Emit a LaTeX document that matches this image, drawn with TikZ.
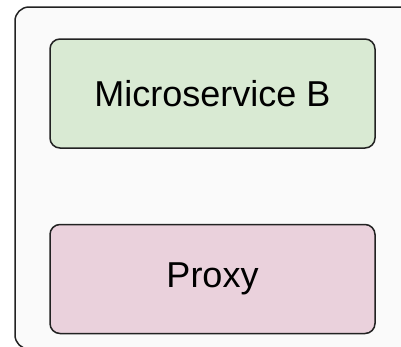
\documentclass[tikz,border=0pt]{standalone}
\usepackage{fontspec}
\setmainfont{Liberation Sans}
\usetikzlibrary{positioning}
\definecolor{podgray}{HTML}{FAFAFA}
\definecolor{svcgreen}{HTML}{D9EAD3}
\definecolor{proxypink}{HTML}{EAD1DC}
\definecolor{edge}{HTML}{222222}
\tikzset{
  pod/.style={draw=edge,line width=1.5pt,fill=podgray,rounded corners=14pt},
  dob/.style={draw=edge,line width=1.5pt,rounded corners=10pt,minimum width=325pt,
    minimum height=109pt,inner sep=0pt,align=center,font=\fontsize{36}{40}\selectfont},
}
\begin{document}
\begin{tikzpicture}[x=1pt,y=-1pt]
  \useasboundingbox (0,0) rectangle (401,346);
  \clip (0,0) rectangle (401,346);
  % outer container, runs past the right and bottom edges
  \draw[pod] (15,7) rectangle (420,349);
  \node[dob,fill=svcgreen] (msb) at (212.5,93.5) {Microservice B};
  \node[dob,fill=proxypink,below=75pt of msb] (proxy) {Proxy};
\end{tikzpicture}
\end{document}
